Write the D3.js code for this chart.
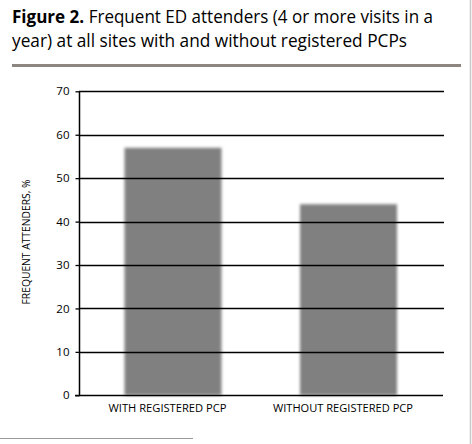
<!DOCTYPE html>
<html><head><meta charset="utf-8">
<script src="https://cdn.jsdelivr.net/npm/d3@7"></script>
<style>body{margin:0;background:#fff;}svg{display:block;}</style>
</head><body>
<svg id="c" width="472" height="444"></svg>
<script>
const categories = ["WITH REGISTERED PCP", "WITHOUT REGISTERED PCP"];
const values = [57, 44];
const yTicks = [0, 10, 20, 30, 40, 50, 60, 70];
const titleBold = "Figure 2.";
const titleLine1 = " Frequent ED attenders (4 or more visits in a";
const titleLine2 = "year) at all sites with and without registered PCPs";
const yLabel = "FREQUENT ATTENDERS, %";

const svg = d3.select("#c");
const font = "'Open Sans', sans-serif";

// right border
svg.append("line").attr("x1", 470.5).attr("x2", 470.5).attr("y1", 0).attr("y2", 444)
  .attr("stroke", "#c8c8c8").attr("stroke-width", 1.5);

// title
const t1 = svg.append("text").attr("x", 12).attr("y", 23).attr("font-family", font)
  .attr("font-size", 17.5).attr("fill", "#000").attr("textLength", 421).attr("lengthAdjust", "spacingAndGlyphs");
t1.append("tspan").attr("font-weight", "bold").text(titleBold);
t1.append("tspan").attr("font-weight", 500).text(titleLine1);
svg.append("text").attr("x", 12).attr("y", 47).attr("font-family", font).attr("font-weight", 500)
  .attr("font-size", 17.5).attr("fill", "#000").attr("textLength", 395).attr("lengthAdjust", "spacingAndGlyphs")
  .text(titleLine2);
svg.append("line").attr("x1", 12).attr("x2", 461).attr("y1", 65.5).attr("y2", 65.5)
  .attr("stroke", "#8c8580").attr("stroke-width", 3);

// scales
const bw = 97;
const y = d3.scaleLinear().domain([0, 70]).range([395.3, 91.3]);
const xc = d3.scalePoint().domain(categories).range([173, 348.5]);

const defs = svg.append("defs");
defs.append("filter").attr("id", "blur").attr("x", "-20%").attr("y", "-20%").attr("width", "140%").attr("height", "140%")
  .append("feGaussianBlur").attr("stdDeviation", 1.8);

// bars
svg.append("g").attr("filter", "url(#blur)").selectAll("rect").data(values).join("rect")
  .attr("x", (d, i) => xc(categories[i]) - bw / 2)
  .attr("width", bw)
  .attr("y", d => y(d))
  .attr("height", d => y(0) - y(d))
  .attr("fill", "#808080");

// gridlines
svg.append("g").selectAll("line").data(yTicks.filter(d => d > 0)).join("line")
  .attr("x1", 79).attr("x2", 444)
  .attr("y1", d => Math.round(y(d)) + 0.5).attr("y2", d => Math.round(y(d)) + 0.5)
  .attr("stroke", "#000").attr("stroke-width", 1.3);

// y axis
const yAxis = d3.axisLeft(y).tickValues(yTicks).tickSize(4).tickPadding(6);
const gy = svg.append("g").attr("transform", "translate(79.5,0)").call(yAxis);
gy.select(".domain").attr("stroke", "#000").attr("stroke-width", 1.5).attr("d", `M0,${y(70)}V${y(0)}`);
gy.selectAll(".tick line").attr("stroke", "#000").attr("stroke-width", 1.3);
gy.selectAll(".tick text").attr("font-family", font).attr("font-size", 11.5).attr("font-weight", 500).attr("fill", "#000");

// baseline
svg.append("line").attr("x1", 75).attr("x2", 443).attr("y1", Math.round(y(0)) + 0.5).attr("y2", Math.round(y(0)) + 0.5)
  .attr("stroke", "#000").attr("stroke-width", 1.3);

// x labels
const labelOffset = [-5.5, -5.5];
svg.append("g").selectAll("text").data(categories).join("text")
  .attr("x", (d, i) => xc(d) + labelOffset[i]).attr("y", 411.5)
  .attr("text-anchor", "middle").attr("font-family", font).attr("font-size", 11).attr("font-weight", 500).attr("fill", "#000")
  .attr("textLength", (d, i) => i === 0 ? 118 : 140).attr("lengthAdjust", "spacingAndGlyphs")
  .text(d => d);

// y label
svg.append("text").attr("transform", "translate(30,242) rotate(-90)")
  .attr("text-anchor", "middle").attr("font-family", font).attr("font-size", 11).attr("font-weight", 500).attr("fill", "#000")
  .attr("textLength", 125).attr("lengthAdjust", "spacingAndGlyphs")
  .text(yLabel);

// footer rule
svg.append("line").attr("x1", 0).attr("x2", 193).attr("y1", 438.5).attr("y2", 438.5)
  .attr("stroke", "#999").attr("stroke-width", 1);
</script>
</body></html>
